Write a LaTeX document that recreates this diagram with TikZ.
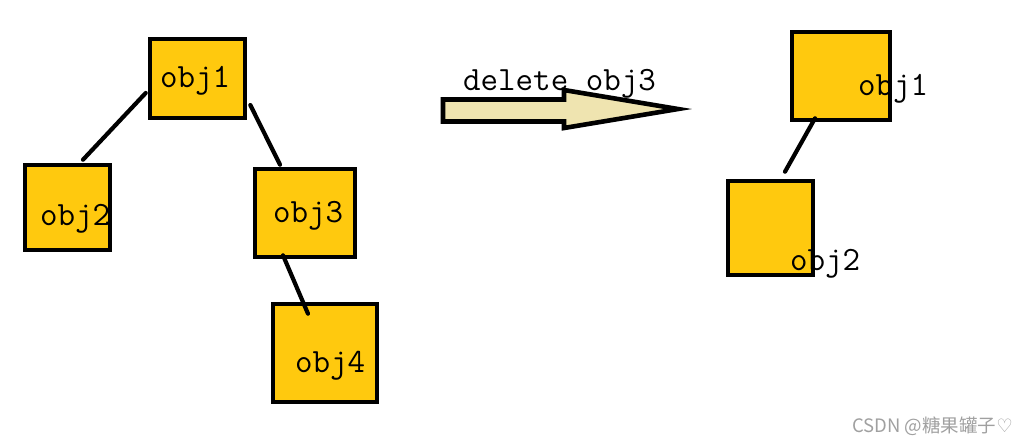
\documentclass[tikz,border=0pt]{standalone}
\usepackage{fontspec}
\newfontfamily\cjk{Noto Sans CJK SC}
\newfontfamily\dejavu{DejaVu Sans}
\definecolor{gold}{HTML}{FFC90E}
\definecolor{tan}{HTML}{EFE4B0}
\definecolor{wm}{HTML}{A0A0A0}
\tikzset{
  objbox/.style={draw=black, fill=gold, line width=4.6pt, rectangle, inner sep=0pt},
  link/.style={draw=black, line width=4.2pt, line cap=round},
  lbl/.style={anchor=base west, inner sep=0pt, font=\fontsize{34}{40}\selectfont\ttfamily},
}
\begin{document}
\begin{tikzpicture}[x=1pt,y=-1pt]
\useasboundingbox (0,0) rectangle (1028,445);
% left tree boxes
\node[objbox, minimum width=95pt, minimum height=79pt] (o1) at (197.5,78.5) {};
\node[objbox, minimum width=85pt, minimum height=85pt] (o2) at (67.5,207.5) {};
\node[objbox, minimum width=100pt, minimum height=88pt] (o3) at (305,213) {};
\node[objbox, minimum width=104pt, minimum height=98pt] (o4) at (325,353) {};
% right tree boxes
\node[objbox, minimum width=98pt, minimum height=88pt] (r1) at (841,76) {};
\node[objbox, minimum width=85pt, minimum height=94pt] (r2) at (770.5,228) {};
% connectors
\draw[link] ([xshift=-2pt,yshift=-14.5pt]o1.west) -- ([xshift=15.5pt,yshift=3pt]o2.north);
\draw[link] ([xshift=3pt,yshift=-26.5pt]o1.east) -- ([xshift=-25pt,yshift=2pt]o3.north);
\draw[link] ([xshift=-22pt,yshift=4pt]o3.south) -- ([xshift=-17pt,yshift=-12pt]o4.north);
\draw[link] ([xshift=-26pt,yshift=4pt]r1.south) -- ([xshift=14.5pt,yshift=7pt]r2.north);
% arrow
\draw[fill=tan, line width=4.6pt, line join=miter, miter limit=20]
  (443,99.5) -- (564,99.5) -- (564,90) -- (678,109) -- (564,128) -- (564,121.5) -- (443,121.5) -- cycle;
% labels
\node[lbl] (t1) at (160,87) {obj1};
\node[lbl] (t2) at (40,225) {obj2};
\node[lbl] (t3) at (273,222) {obj3};
\node[lbl] (t4) at (295,372) {obj4};
\node[lbl] (tr1) at (858,95) {obj1};
\node[lbl] (tr2) at (790,270) {obj2};
\node[lbl] (tdel) at (463,90) {delete obj3};
% watermark
\node[anchor=base west, inner sep=0pt, text=wm, font=\fontsize{18.5}{22}\selectfont] (wm) at (852,432) {\cjk CSDN @糖果罐子{\dejavu ♡}};
\end{tikzpicture}
\end{document}
